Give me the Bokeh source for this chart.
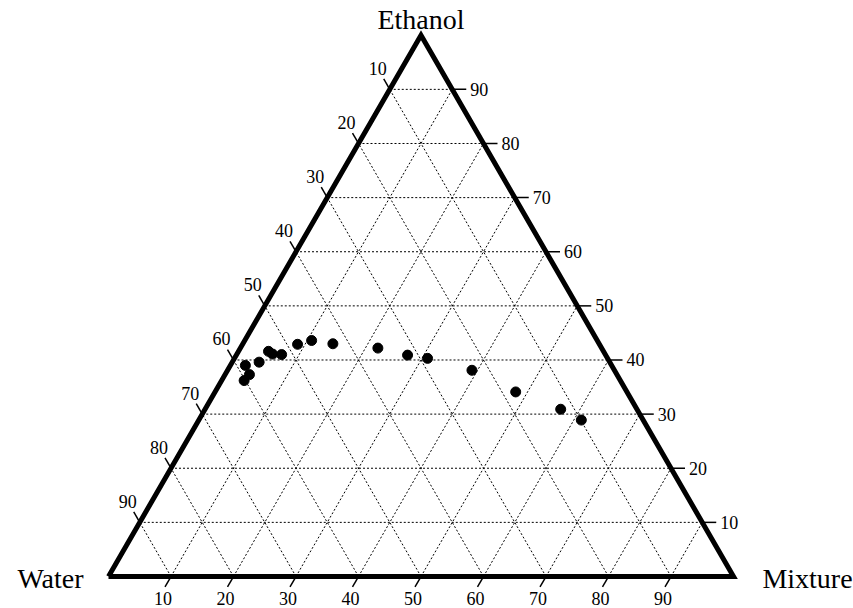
import numpy as np
from bokeh.plotting import figure
from bokeh.models import ColumnDataSource, Range1d
from bokeh.core.properties import value
from bokeh.embed import file_html
from bokeh.resources import INLINE

# Ternary composition of the measured samples (percent)
water = [58.6, 58.8, 60.2, 56.1, 53.6, 53.2, 51.8, 48.3, 45.7, 42.6, 35.8, 31.7, 28.8, 22.8, 17.8, 12.2, 9.9]
ethanol = [39.0, 37.3, 36.2, 39.6, 41.6, 41.1, 41.0, 42.9, 43.6, 43.0, 42.2, 40.9, 40.3, 38.1, 34.1, 30.9, 28.9]
mixture = [2.4, 3.9, 3.6, 4.3, 4.8, 5.7, 7.2, 8.8, 10.7, 14.4, 22.0, 27.4, 30.9, 39.1, 48.1, 56.9, 61.2]

tick_values = [10, 20, 30, 40, 50, 60, 70, 80, 90]
tick_labels = [str(t) for t in tick_values]
corner_labels = ["Water", "Ethanol", "Mixture"]

H = np.sqrt(3) / 2
PX = 625.0  # pixels per unit side length
FONT = value("Liberation Serif")


def to_xy(w, e, m):
    w, e, m = (np.asarray(a, dtype=float) for a in (w, e, m))
    s = w + e + m
    e, m = e / s, m / s
    return m + e / 2, e * H


p = figure(width=853, height=608, output_backend="svg", toolbar_location=None,
           min_border=0, outline_line_color=None)
p.x_range = Range1d(-108 / PX, (853 - 108) / PX)
p.y_range = Range1d(-32 / PX, (608 - 32) / PX)
p.axis.visible = False
p.grid.visible = False

f = np.array(tick_values) / 100.0

# dotted grid: constant ethanol, constant mixture, constant water
xs, ys = [], []
for v in f:
    xs.append([v / 2, 1 - v / 2]); ys.append([v * H, v * H])
    xs.append([v, v + (1 - v) / 2]); ys.append([0, (1 - v) * H])
    xs.append([1 - v, (1 - v) / 2]); ys.append([0, (1 - v) * H])
p.multi_line(xs, ys, line_color="black", line_width=1, line_dash="2 2")

# triangle outline
p.line([0, 1, 0.5, 0], [0, 0, H, 0], line_color="black", line_width=5,
       line_join="miter")

d = 1 / PX
L = 12 * d
TS = "18px"
# bottom axis: mixture
bx = f
p.segment(bx, 0 * bx, bx - 0.5 * L, -H * L, line_color="black", line_width=1.5)
p.text(bx - 8 * d, -22 * d, text=tick_labels, text_font=FONT, text_font_size=TS,
       text_align="center", text_baseline="middle", text_color="black")
# right axis: ethanol
rx, ry = 1 - f / 2, f * H
p.segment(rx, ry, rx + 14 * d, ry, line_color="black", line_width=1.5)
p.text(rx + 18 * d, ry, text=tick_labels, text_font=FONT, text_font_size=TS,
       text_align="left", text_baseline="middle", text_color="black")
# left axis: water
lx, ly = (1 - f) / 2, (1 - f) * H
p.segment(lx, ly, lx - 0.5 * L, ly + H * L, line_color="black", line_width=1.5)
p.text(lx - 12 * d, ly + 21 * d, text=tick_labels, text_font=FONT, text_font_size=TS,
       text_align="center", text_baseline="middle", text_color="black")

# vertex names
p.text([-58 * d, 0.5, 1 + 74 * d], [-2 * d, H + 16 * d, -2 * d], text=corner_labels,
       text_font=FONT, text_font_size="28px", text_align="center",
       text_baseline="middle", text_color="black")

x, y = to_xy(water, ethanol, mixture)
src = ColumnDataSource(dict(x=x, y=y))
p.scatter("x", "y", source=src, size=10, color="black")

open("out.html", "w").write(file_html(p, INLINE))
